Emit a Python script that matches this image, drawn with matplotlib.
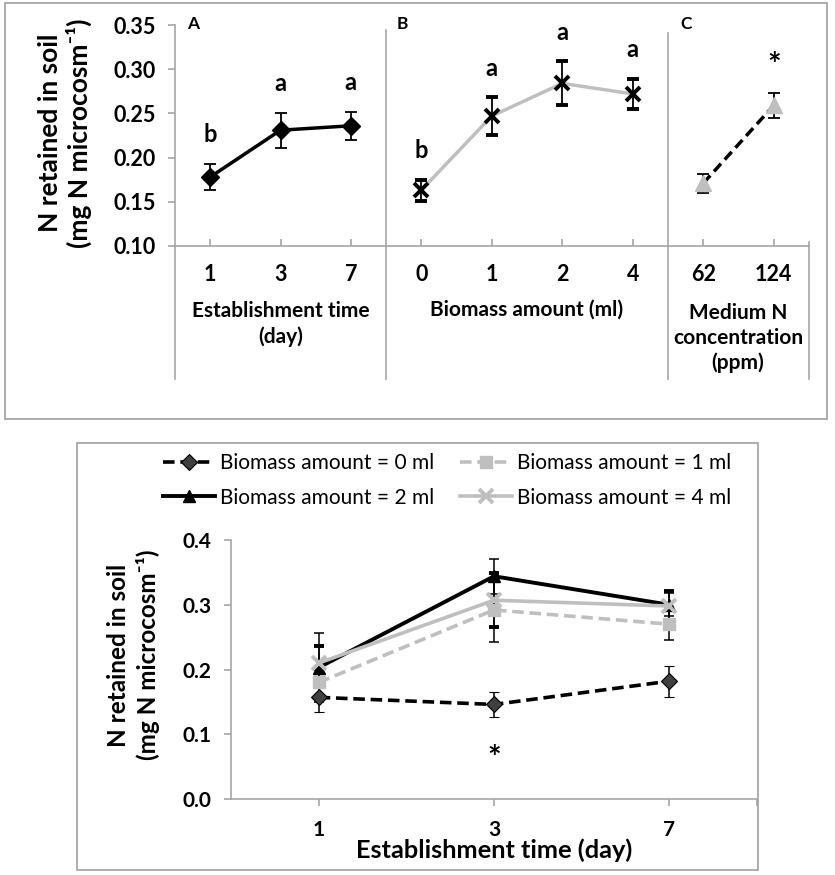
import matplotlib
matplotlib.use("Agg")
import matplotlib.pyplot as plt
from matplotlib.lines import Line2D
from matplotlib.patches import Rectangle

plt.rcParams['font.family'] = ['Lato', 'DejaVu Sans']

# ---------------- data ----------------
# Panel A
a_cats = ['1', '3', '7']
a_vals = [0.178, 0.231, 0.236]
a_err = [0.015, 0.020, 0.016]
a_letters = ['b', 'a', 'a']
# Panel B
b_cats = ['0', '1', '2', '4']
b_vals = [0.163, 0.247, 0.284, 0.272]
b_err = [0.012, 0.021, 0.025, 0.017]
b_letters = ['b', 'a', 'a', 'a']
# Panel C
c_cats = ['62', '124']
c_vals = [0.171, 0.259]
c_err = [0.011, 0.014]
c_letters = ['', '*']
# Panel D
d_cats = ['1', '3', '7']
d_labels = ['Biomass amount = 0 ml', 'Biomass amount = 1 ml',
            'Biomass amount = 2 ml', 'Biomass amount = 4 ml']
d_0ml = [0.157, 0.146, 0.182]
d_0ml_err = [0.022, 0.019, 0.024]
d_1ml = [0.180, 0.292, 0.270]
d_1ml_err = [0.020, 0.049, 0.024]
d_2ml = [0.203, 0.344, 0.300]
d_2ml_err = [0.053, 0.027, 0.018]
d_4ml = [0.210, 0.307, 0.298]
d_4ml_err = [0.026, 0.042, 0.023]
d_star = ['', '*', '']

# ---------------- layout helpers ----------------
W, H = 835, 875
fig = plt.figure(figsize=(W / 100, H / 100), dpi=100)


def rect(l, t, r, b):
    return [l / W, 1 - b / H, (r - l) / W, (b - t) / H]


def fx(x):
    return x / W


def fy(y):
    return 1 - y / H


AX = '#a6a6a6'
GRAY = '#bfbfbf'
BOX = '#a0a0a0'

# outer boxes
fig.patches.append(Rectangle((fx(5), fy(419)), fx(827) - fx(5), fy(3) - fy(419),
                             transform=fig.transFigure, fill=False, ec=BOX, lw=1.2))
fig.patches.append(Rectangle((fx(77), fy(870)), fx(758) - fx(77), fy(443) - fy(870),
                             transform=fig.transFigure, fill=False, ec=BOX, lw=1.2))

# ---------------- top panels ----------------
TOP, BOT = 25, 246
axA = fig.add_axes(rect(175, TOP, 386, BOT))
axB = fig.add_axes(rect(386, TOP, 668, BOT))
axC = fig.add_axes(rect(668, TOP, 809, BOT))

tick_fs = 15.5
eb_kw = dict(capsize=4, elinewidth=1.3, ecolor='black', capthick=1.3)

for ax, cats in ((axA, a_cats), (axB, b_cats), (axC, c_cats)):
    ax.set_xlim(-0.5, len(cats) - 0.5)
    ax.set_ylim(0.10, 0.35)
    ax.set_xticks(range(len(cats)))
    ax.set_xticklabels(cats, fontsize=tick_fs, fontweight='bold')
    for s in ('top', 'right', 'left'):
        ax.spines[s].set_visible(False)
    ax.spines['bottom'].set_color(AX)
    ax.spines['bottom'].set_linewidth(1.2)
    ax.tick_params(axis='x', direction='in', length=5, color=AX, width=1.2, pad=13)
    ax.patch.set_alpha(0)

axA.spines['left'].set_visible(True)
axA.spines['left'].set_color(AX)
axA.spines['left'].set_linewidth(1.2)
axA.set_yticks([0.10, 0.15, 0.20, 0.25, 0.30, 0.35])
axA.set_yticklabels(['%.2f' % v for v in [0.10, 0.15, 0.20, 0.25, 0.30, 0.35]],
                    fontsize=tick_fs, fontweight='bold')
axA.tick_params(axis='y', direction='out', length=5, color=AX, width=1.2, pad=9)
axB.set_yticks([])
axC.set_yticks([])

# separators / extended axis lines
ext = (BOT - 379) / (BOT - TOP)
axA.plot([0, 0], [ext, 0], transform=axA.transAxes, color=AX, lw=1.2, clip_on=False)
axB.plot([0, 0], [ext, (BOT - 30) / (BOT - TOP)], transform=axB.transAxes, color=AX, lw=1.2, clip_on=False)
axC.plot([0, 0], [ext, (BOT - 33) / (BOT - TOP)], transform=axC.transAxes, color=AX, lw=1.2, clip_on=False)
axC.plot([1, 1], [ext, (BOT - 242) / (BOT - TOP)], transform=axC.transAxes, color=AX, lw=1.2, clip_on=False)

# data A
axA.errorbar(range(len(a_cats)), a_vals, yerr=a_err, color='black', lw=2.5,
             marker='D', ms=9, mfc='black', mec='black', **eb_kw)
# data B
axB.errorbar(range(len(b_cats)), b_vals, yerr=b_err, color=GRAY, lw=2.5,
             marker='x', ms=10, mec='black', mew=2.8, **eb_kw)
# data C
axC.errorbar(range(len(c_cats)), c_vals, yerr=c_err, color='black', lw=2.5, ls=(0, (3, 1.6)),
             marker='^', ms=11, mfc=GRAY, mec=GRAY, **eb_kw)

letter_fs = 17
for ax, vals, errs, letters in ((axA, a_vals, a_err, a_letters),
                                (axB, b_vals, b_err, b_letters),
                                (axC, c_vals, c_err, c_letters)):
    for i, (v, e, t) in enumerate(zip(vals, errs, letters)):
        if t == '*':
            ax.text(i, v + e + 0.030, t, ha='center', va='center', fontsize=23, fontweight='bold')
        elif t:
            ax.text(i, v + e + 0.033, t, ha='center', va='center', fontsize=letter_fs, fontweight='bold')

# panel letters
for lab, x in (('A', 193), ('B', 402), ('C', 686)):
    fig.text(fx(x), fy(24), lab, ha='center', va='center', fontsize=12.5, fontweight='bold')

# top axis titles
title_fs = 15
fig.text(fx(281), fy(324), 'Establishment time\n(day)', ha='center', va='center',
         fontsize=title_fs, fontweight='bold', linespacing=1.3)
fig.text(fx(527), fy(310), 'Biomass amount (ml)', ha='center', va='center',
         fontsize=title_fs, fontweight='bold')
fig.text(fx(738), fy(338), 'Medium N\nconcentration\n(ppm)', ha='center', va='center',
         fontsize=title_fs, fontweight='bold', linespacing=1.3)

# top y label
fig.text(fx(65), fy(133), 'N retained in soil\n(mg N microcosm\u207b\u00b9)', rotation=90,
         ha='center', va='center', fontsize=19, fontweight='bold', linespacing=1.2)

# ---------------- bottom panel ----------------
axD = fig.add_axes(rect(231, 540, 757, 799))
axD.set_xlim(-0.5, 2.5)
axD.set_ylim(0.0, 0.4)
axD.patch.set_alpha(0)
for s in ('top', 'right'):
    axD.spines[s].set_visible(False)
for s in ('left', 'bottom'):
    axD.spines[s].set_color(AX)
    axD.spines[s].set_linewidth(1.2)
axD.set_xticks(range(len(d_cats)))
axD.set_xticklabels(d_cats, fontsize=15, fontweight='bold')
axD.set_xticks([2.5], minor=True)
axD.tick_params(axis='x', which='both', direction='out', length=5, color=AX, width=1.2, pad=10)
yt = [0.0, 0.1, 0.2, 0.3, 0.4]
axD.set_yticks(yt)
axD.set_yticklabels(['%.1f' % v for v in yt], fontsize=15, fontweight='bold')
axD.tick_params(axis='y', direction='out', length=5, color=AX, width=1.2, pad=9)

xd = range(len(d_cats))
ebd = dict(capsize=3.5, elinewidth=1.1, ecolor='black', capthick=1.1)
axD.errorbar(xd, d_0ml, yerr=d_0ml_err, color='black', lw=2.6, ls=(0, (3.2, 1.6)),
             marker='D', ms=8, mfc='#404040', mec='black', mew=0.8, **ebd)
axD.errorbar(xd, d_1ml, yerr=d_1ml_err, color=GRAY, lw=2.6, ls=(0, (3.2, 1.6)),
             marker='s', ms=9, mfc=GRAY, mec=GRAY, **ebd)
axD.errorbar(xd, d_2ml, yerr=d_2ml_err, color='black', lw=2.8,
             marker='^', ms=8, mfc='black', mec='black', **ebd)
axD.errorbar(xd, d_4ml, yerr=d_4ml_err, color=GRAY, lw=2.6,
             marker='x', ms=10, mec=GRAY, mew=2.8, **ebd)

for i, t in enumerate(d_star):
    if t:
        axD.text(i, d_0ml[i] - d_0ml_err[i] - 0.066, t, ha='center', va='center',
                 fontsize=23, fontweight='bold')

axD.set_xlabel('Establishment time (day)', fontsize=18.3, fontweight='bold', labelpad=-1)

fig.text(fx(133), fy(655), 'N retained in soil\n(mg N microcosm\u207b\u00b9)', rotation=90,
         ha='center', va='center', fontsize=17.5, fontweight='bold', linespacing=1.3)

handles = [Line2D([], [], color='black', lw=2.6, ls=(0, (3.2, 1.6)), marker='D', ms=8,
                  mfc='#404040', mec='black', mew=0.8),
           Line2D([], [], color=GRAY, lw=2.6, ls=(0, (3.2, 1.6)), marker='s', ms=9,
                  mfc=GRAY, mec=GRAY),
           Line2D([], [], color='black', lw=2.8, marker='^', ms=8, mfc='black', mec='black'),
           Line2D([], [], color=GRAY, lw=2.6, marker='x', ms=10, mec=GRAY, mew=2.8)]
order = [0, 2, 1, 3]
fig.legend([handles[i] for i in order], [d_labels[i] for i in order], ncol=2,
           loc='upper left', bbox_to_anchor=(fx(163), fy(453)), frameon=False,
           fontsize=15, handlelength=2.5, handletextpad=0.25, columnspacing=1.2,
           labelspacing=0.7, borderpad=0, borderaxespad=0, numpoints=1)

fig.savefig('out.png', dpi=100)
